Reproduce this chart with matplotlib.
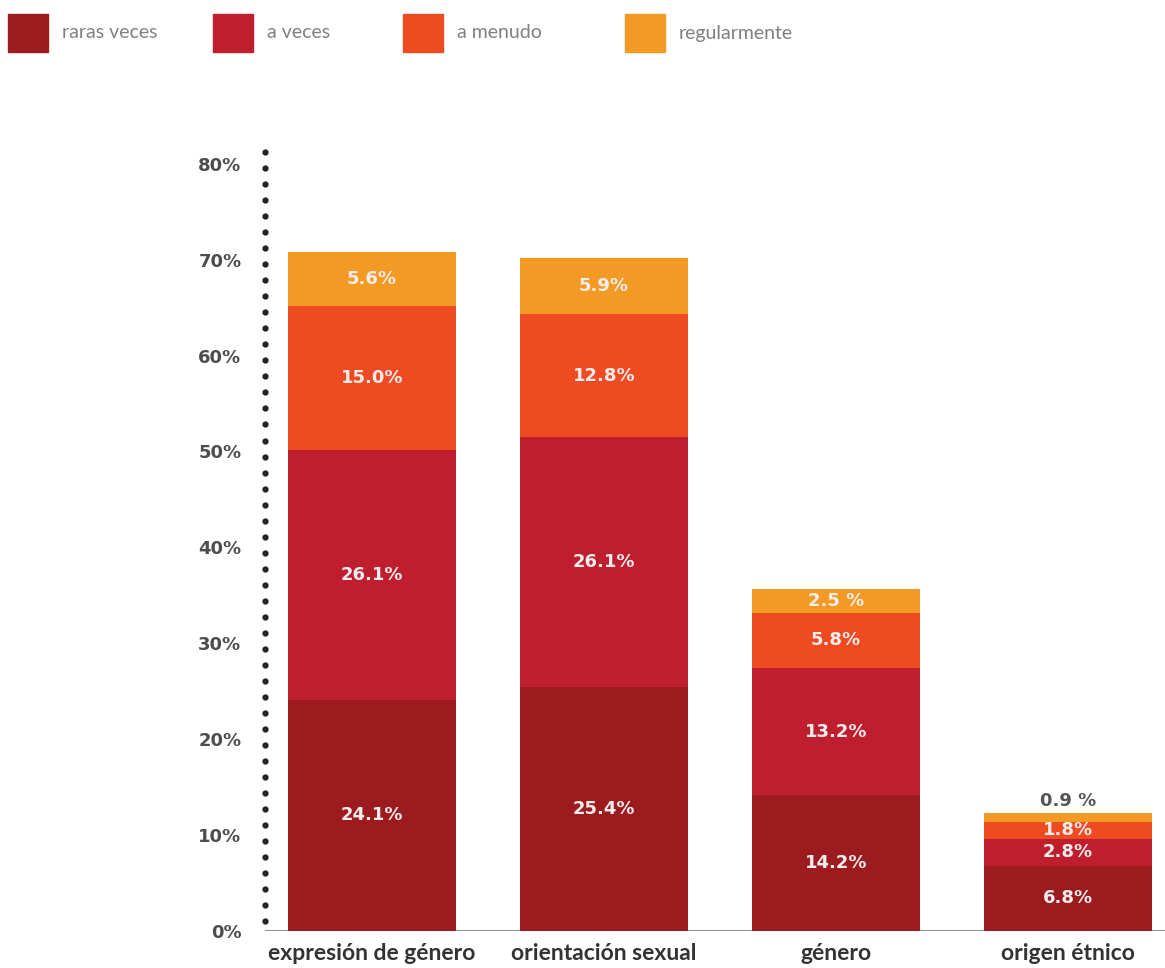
import numpy as np
import matplotlib
matplotlib.use('Agg')
import matplotlib.pyplot as plt
from matplotlib.patches import Rectangle
import matplotlib.transforms as mtransforms

# datos
categorias = ['expresión de género', 'orientación sexual', 'género', 'origen étnico']
series = ['raras veces', 'a veces', 'a menudo', 'regularmente']
raras_veces = [24.1, 25.4, 14.2, 6.8]
a_veces = [26.1, 26.1, 13.2, 2.8]
a_menudo = [15.0, 12.8, 5.8, 1.8]
regularmente = [5.6, 5.9, 2.5, 0.9]
etiquetas = [
    ['24.1%', '25.4%', '14.2%', '6.8%'],
    ['26.1%', '26.1%', '13.2%', '2.8%'],
    ['15.0%', '12.8%', '5.8%', '1.8%'],
    ['5.6%', '5.9%', '2.5 %', '0.9 %'],
]
yticks = [0, 10, 20, 30, 40, 50, 60, 70, 80]

colores = ['#9b1b1f', '#be1e2d', '#ef4b23', '#f39a24']
valores = [raras_veces, a_veces, a_menudo, regularmente]

W, H = 1165, 968
fig = plt.figure(figsize=(W / 100, H / 100), dpi=100)

# ejes en pixeles: izquierda 265, base 931, arriba 152
x0, x1, yb, yt = 265, 1165, 931, 152
ax = fig.add_axes([x0 / W, (H - yb) / H, (x1 - x0) / W, (yb - yt) / H])
ax.set_ylim(0, (yb - yt) / 9.59)
ax.set_xlim(-0.461, 3.418)

x = np.arange(len(categorias))
ancho = 0.724
base = np.zeros(len(categorias))
for k, (vals, col) in enumerate(zip(valores, colores)):
    vals = np.array(vals)
    ax.bar(x, vals, ancho, bottom=base, color=col, zorder=2)
    for i in range(len(categorias)):
        if k == 3 and i == 3:
            # el valor pequeño va encima de la barra
            ax.text(x[i], base[i] + vals[i] + 1.3, etiquetas[k][i], ha='center', va='center',
                    fontsize=13, fontweight='bold', color='#555555')
        else:
            ax.text(x[i], base[i] + vals[i] / 2, etiquetas[k][i], ha='center', va='center',
                    fontsize=13, fontweight='bold', color='#f7ecec', zorder=3)
    base = base + vals

# eje y punteado
for s in ax.spines.values():
    s.set_visible(False)
trans = mtransforms.blended_transform_factory(ax.transAxes, ax.transData)
ydots = np.linspace(1.0, ax.get_ylim()[1], 49)
ax.plot(np.zeros_like(ydots), ydots, 'o', color='#222222', markersize=3.5,
        transform=trans, clip_on=False, zorder=4)
ax.axhline(0, color='#808080', linewidth=2, zorder=1)

ax.set_yticks(yticks)
ax.set_yticklabels([f'{v}%' for v in yticks], fontsize=13, fontweight='bold', color='#4d4d4d')
ax.tick_params(axis='y', length=0, pad=17)
ax.set_xticks(x)
ax.set_xticklabels(categorias, fontsize=16.5, fontweight='bold', color='#333333', family='Lato')
ax.tick_params(axis='x', length=0, pad=9)

# leyenda
leg_x = [8, 213, 403, 625]
for nombre, col, lx in zip(series, colores, leg_x):
    fig.add_artist(Rectangle((lx / W, (H - 52) / H), 40 / W, 38 / H,
                             transform=fig.transFigure, color=col))
    fig.text((lx + 54) / W, (H - 33) / H, nombre, fontsize=14, color='#808080',
             family='Lato', va='center', ha='left')

fig.savefig('out.png', dpi=100)
